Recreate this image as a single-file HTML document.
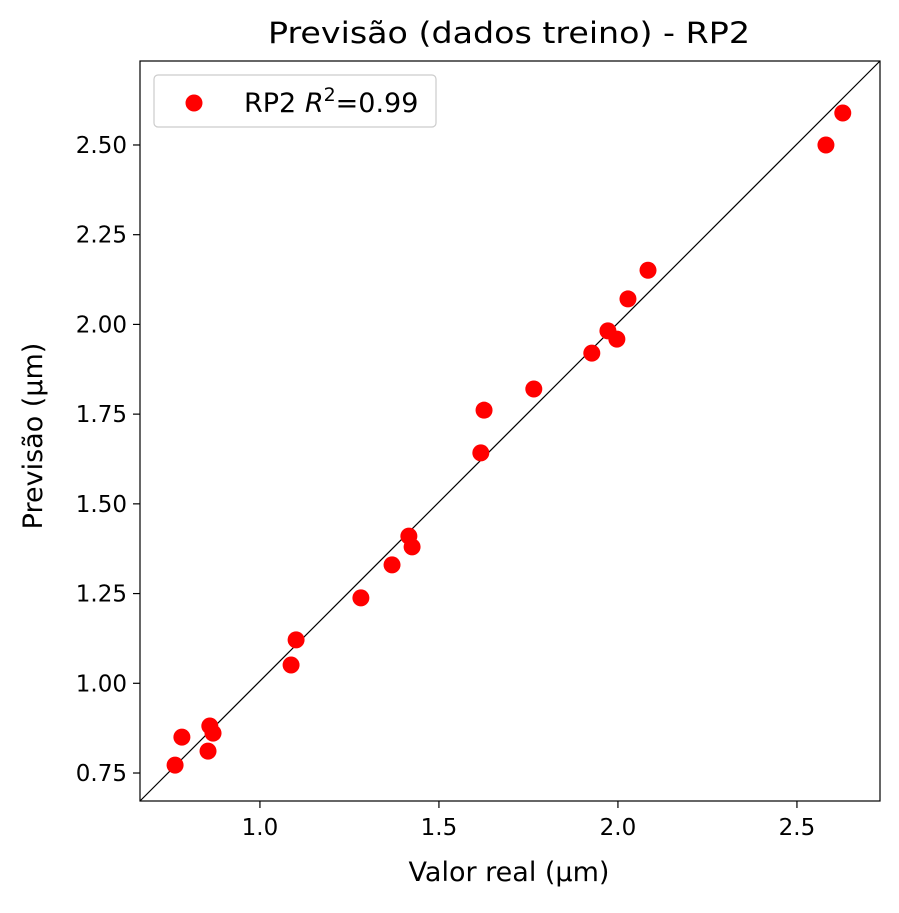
<!DOCTYPE html>
<html><head><meta charset="utf-8"><style>
body{margin:0;background:#fff;}
text{font-family:"DejaVu Sans","Liberation Sans",sans-serif;fill:#000;}
</style></head><body>
<svg id="chart" width="899" height="908" xmlns="http://www.w3.org/2000/svg">
<rect width="899" height="908" fill="#fff"/>
<text x="509" y="43" font-size="29" text-anchor="middle" textLength="482" lengthAdjust="spacingAndGlyphs">Previsão (dados treino) - RP2</text>
<g id="plot"></g>
<text x="509" y="881" font-size="27" text-anchor="middle">Valor real (µm)</text>
<text transform="translate(42,436) rotate(-90)" font-size="27" text-anchor="middle">Previsão (µm)</text>
</svg>
<script>
const realValues=[0.763,0.782,0.860,0.855,0.869,1.087,1.101,1.282,1.369,1.416,1.425,1.617,1.626,1.765,1.927,1.972,1.997,2.028,2.084,2.581,2.628];
const predValues=[0.772,0.850,0.881,0.811,0.861,1.051,1.121,1.238,1.330,1.410,1.380,1.642,1.761,1.820,1.920,1.982,1.959,2.071,2.151,2.500,2.589];
const xTicks=[1.0,1.5,2.0,2.5];
const xTickLabels=["1.0","1.5","2.0","2.5"];
const yTicks=[0.75,1.0,1.25,1.5,1.75,2.0,2.25,2.5];
const yTickLabels=["0.75","1.00","1.25","1.50","1.75","2.00","2.25","2.50"];
const xMin=0.665,xMax=2.732,yMin=0.672,yMax=2.734;
const L=140,R=880,T=61,B=801;
const sx=v=>L+(v-xMin)/(xMax-xMin)*(R-L);
const sy=v=>B-(v-yMin)/(yMax-yMin)*(B-T);
const NS="http://www.w3.org/2000/svg";
const g=document.getElementById('plot');
function mk(tag,attrs){const e=document.createElementNS(NS,tag);for(const k in attrs)e.setAttribute(k,attrs[k]);g.appendChild(e);return e;}
let e;
e=mk('line',{x1:L,y1:B,x2:R,y2:T,stroke:'#000','stroke-width':1.2});


realValues.forEach((v,i)=>{
 const c=mk('circle',{cx:sx(v),cy:sy(predValues[i]),r:8.5,fill:'#ff0000'});
 
 
});
xTicks.forEach((v,i)=>{
 const x=sx(v);
 const t=mk('line',{x1:x,y1:B,x2:x,y2:B+7,stroke:'#000','stroke-width':1.2});
 
 
 const l=mk('text',{x:x,y:B+34,'font-size':23,'text-anchor':'middle'});
 l.textContent=xTickLabels[i];
 
 
});
yTicks.forEach((v,i)=>{
 const y=sy(v);
 const t=mk('line',{x1:L-7,y1:y,x2:L,y2:y,stroke:'#000','stroke-width':1.2});
 
 
 const l=mk('text',{x:L-13,y:y+8,'font-size':23,'text-anchor':'end'});
 l.textContent=yTickLabels[i];
 
 
});
e=mk('rect',{x:L,y:T,width:R-L,height:B-T,fill:'none',stroke:'#000','stroke-width':1.2});


e=mk('rect',{x:154,y:75,width:282,height:52,rx:4,fill:'#fff',stroke:'#ccc','stroke-width':1.2});


e=mk('circle',{cx:194,cy:103,r:8.5,fill:'#ff0000'});


e=mk('text',{x:244,y:112,'font-size':27});
e.innerHTML='RP2 <tspan font-style="italic">R</tspan><tspan font-size="19" dy="-11">2</tspan><tspan dy="11">=0.99</tspan>';


</script>
</body></html>
